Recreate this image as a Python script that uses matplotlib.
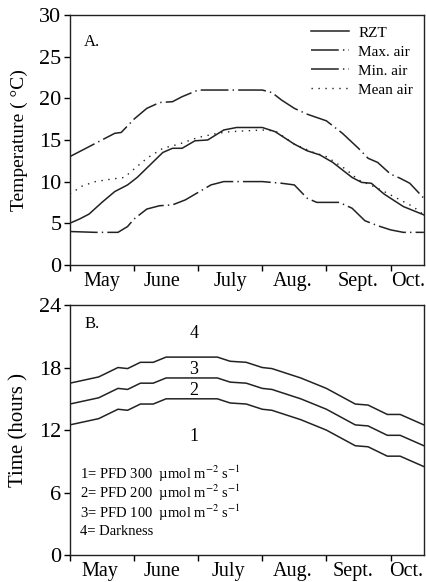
import numpy as np
import matplotlib
matplotlib.use('Agg')
import matplotlib.pyplot as plt

plt.rcParams['font.family'] = ['Liberation Serif', 'DejaVu Serif']
plt.rcParams['mathtext.fontset'] = 'stix'
plt.rcParams['lines.scale_dashes'] = False

# month axis: 0 = start of May, 1 unit per month
month_ticks = [0, 1, 2, 3, 4, 5]
month_names = ['May', 'June', 'July', 'Aug.', 'Sept.', 'Oct.']
label_pos_a = [0.5, 1.43, 2.5, 3.48, 4.5, 5.27]
label_pos_b = [0.47, 1.44, 2.47, 3.48, 4.42, 5.24]

# panel A: temperature
x_max = [0, 0.25, 0.5, 0.7, 0.8, 1.0, 1.2, 1.4, 1.6, 1.75, 2.0, 2.5, 3.0, 3.15, 3.3, 3.5,
         3.7, 4.0, 4.25, 4.5, 4.65, 4.8, 5.0, 5.15, 5.3, 5.52]
max_air = [13.0, 14.0, 15.0, 15.8, 15.9, 17.5, 18.8, 19.5, 19.6, 20.2, 21.0, 21.0, 21.0, 20.7,
           19.8, 18.8, 18.1, 17.3, 15.8, 14.0, 12.8, 12.3, 10.9, 10.4, 9.8, 8.0]

x_min = [0, 0.4, 0.75, 0.9, 1.0, 1.2, 1.4, 1.6, 1.8, 2.0, 2.2, 2.4, 3.0, 3.3, 3.5, 3.6, 3.7,
         3.85, 4.2, 4.4, 4.6, 4.8, 5.0, 5.2, 5.52]
min_air = [4.0, 3.9, 3.9, 4.6, 5.5, 6.7, 7.1, 7.2, 7.8, 8.7, 9.6, 10.0, 10.0, 9.8, 9.6, 8.8,
           8.0, 7.5, 7.5, 6.8, 5.3, 4.7, 4.2, 3.9, 3.9]

x_rzt = [0, 0.15, 0.3, 0.5, 0.7, 0.9, 1.05, 1.25, 1.45, 1.6, 1.75, 1.95, 2.15, 2.4, 2.6, 3.0,
         3.2, 3.5, 3.7, 3.9, 4.1, 4.4, 4.55, 4.7, 4.9, 5.2, 5.52]
rzt = [5.0, 5.5, 6.1, 7.5, 8.8, 9.6, 10.5, 12.0, 13.5, 14.0, 14.0, 14.9, 15.0, 16.2, 16.5, 16.5,
       16.0, 14.5, 13.7, 13.2, 12.3, 10.5, 9.9, 9.8, 8.5, 7.0, 6.0]

x_mean = [0, 0.2, 0.4, 0.65, 0.85, 1.0, 1.2, 1.45, 1.7, 2.0, 2.3, 2.5, 3.0, 3.2, 3.5, 3.8,
          4.0, 4.3, 4.5, 4.8, 5.1, 5.35, 5.52]
mean_air = [8.5, 9.5, 10.0, 10.3, 10.5, 11.5, 12.8, 14.0, 14.5, 15.3, 15.8, 16.0, 16.2, 16.1,
            14.5, 13.5, 13.0, 11.5, 10.2, 9.2, 8.0, 7.0, 6.0]

# panel B: time (hours)
x_time = [0, 0.45, 0.75, 0.9, 1.1, 1.3, 1.5, 2.0, 2.3, 2.5, 2.75, 3.0, 3.15, 3.6, 4.0, 4.45,
          4.65, 4.95, 5.15, 5.52]
curve3 = [16.5, 17.1, 18.0, 17.9, 18.5, 18.5, 19.0, 19.0, 19.0, 18.6, 18.5, 18.0, 17.9, 17.0,
          16.0, 14.5, 14.4, 13.5, 13.5, 12.5]
curve2 = [14.5, 15.1, 16.0, 15.9, 16.5, 16.5, 17.0, 17.0, 17.0, 16.6, 16.5, 16.0, 15.9, 15.0,
          14.0, 12.5, 12.4, 11.5, 11.5, 10.5]
curve1 = [12.5, 13.1, 14.0, 13.9, 14.5, 14.5, 15.0, 15.0, 15.0, 14.6, 14.5, 14.0, 13.9, 13.0,
          12.0, 10.5, 10.4, 9.5, 9.5, 8.5]

zone_labels = ['4', '3', '2', '1']
zone_y = [21.3, 17.8, 15.8, 11.4]
key_lines = ['1= PFD 300  µmol m$^{-2}$ s$^{-1}$',
             '2= PFD 200  µmol m$^{-2}$ s$^{-1}$',
             '3= PFD 100  µmol m$^{-2}$ s$^{-1}$',
             '4= Darkness']

ink = '#222222'
fig = plt.figure(figsize=(4.26, 5.82), dpi=100)
axA = fig.add_axes([0.164, 0.545, 0.831, 0.429])
axB = fig.add_axes([0.164, 0.046, 0.831, 0.430])

dash = (0, (20, 3, 1, 3))
axA.plot(x_rzt, rzt, color=ink, lw=1.1, label='RZT')
axA.plot(x_max, max_air, color=ink, lw=1.1, linestyle=dash, label='Max. air')
axA.plot(x_min, min_air, color=ink, lw=1.1, linestyle=dash, label='Min. air')
axA.plot(x_mean, mean_air, color=ink, lw=1.0, linestyle=(0, (1, 4)), label='Mean air')
axA.set_ylim(0, 30)
axA.set_yticks([0, 5, 10, 15, 20, 25, 30])
axA.set_ylabel('Temperature ( °C)', fontsize=14)
axA.text(0.34, 26.8, 'A.', fontsize=12, ha='center', va='center')
axA.legend(loc='upper right', frameon=False, fontsize=11, handlelength=2.5,
           handletextpad=0.6, labelspacing=0.35, borderaxespad=0.3)

axB.plot(x_time, curve3, color=ink, lw=1.1)
axB.plot(x_time, curve2, color=ink, lw=1.1)
axB.plot(x_time, curve1, color=ink, lw=1.1)
axB.set_ylim(0, 24)
axB.set_yticks([0, 6, 12, 18, 24])
axB.set_ylabel('Time (hours )', fontsize=15)
axB.text(0.34, 22.2, 'B.', fontsize=12, ha='center', va='center')
for lab, yy in zip(zone_labels, zone_y):
    axB.text(1.93, yy, lab, fontsize=13, ha='center', va='center')
for i, line in enumerate(key_lines):
    axB.text(0.16, 7.8 - i * 1.85, line, fontsize=10.5, ha='left', va='center')

for ax, pos in ((axA, label_pos_a), (axB, label_pos_b)):
    ax.set_xlim(0, 5.52)
    ax.set_xticks(month_ticks)
    ax.set_xticklabels([])
    ax.set_xticks(pos, minor=True)
    ax.set_xticklabels(month_names, minor=True, fontsize=14.5)
    ax.tick_params(axis='x', which='minor', length=0, pad=5)
    ax.tick_params(axis='both', which='major', direction='out', length=4, width=1, labelsize=16)
    ax.tick_params(axis='y', pad=2)
    ax.yaxis.set_label_coords(-0.118, 0.5)
    for s in ax.spines.values():
        s.set_linewidth(1.0)
        s.set_color(ink)

fig.savefig('out.png', dpi=100)
